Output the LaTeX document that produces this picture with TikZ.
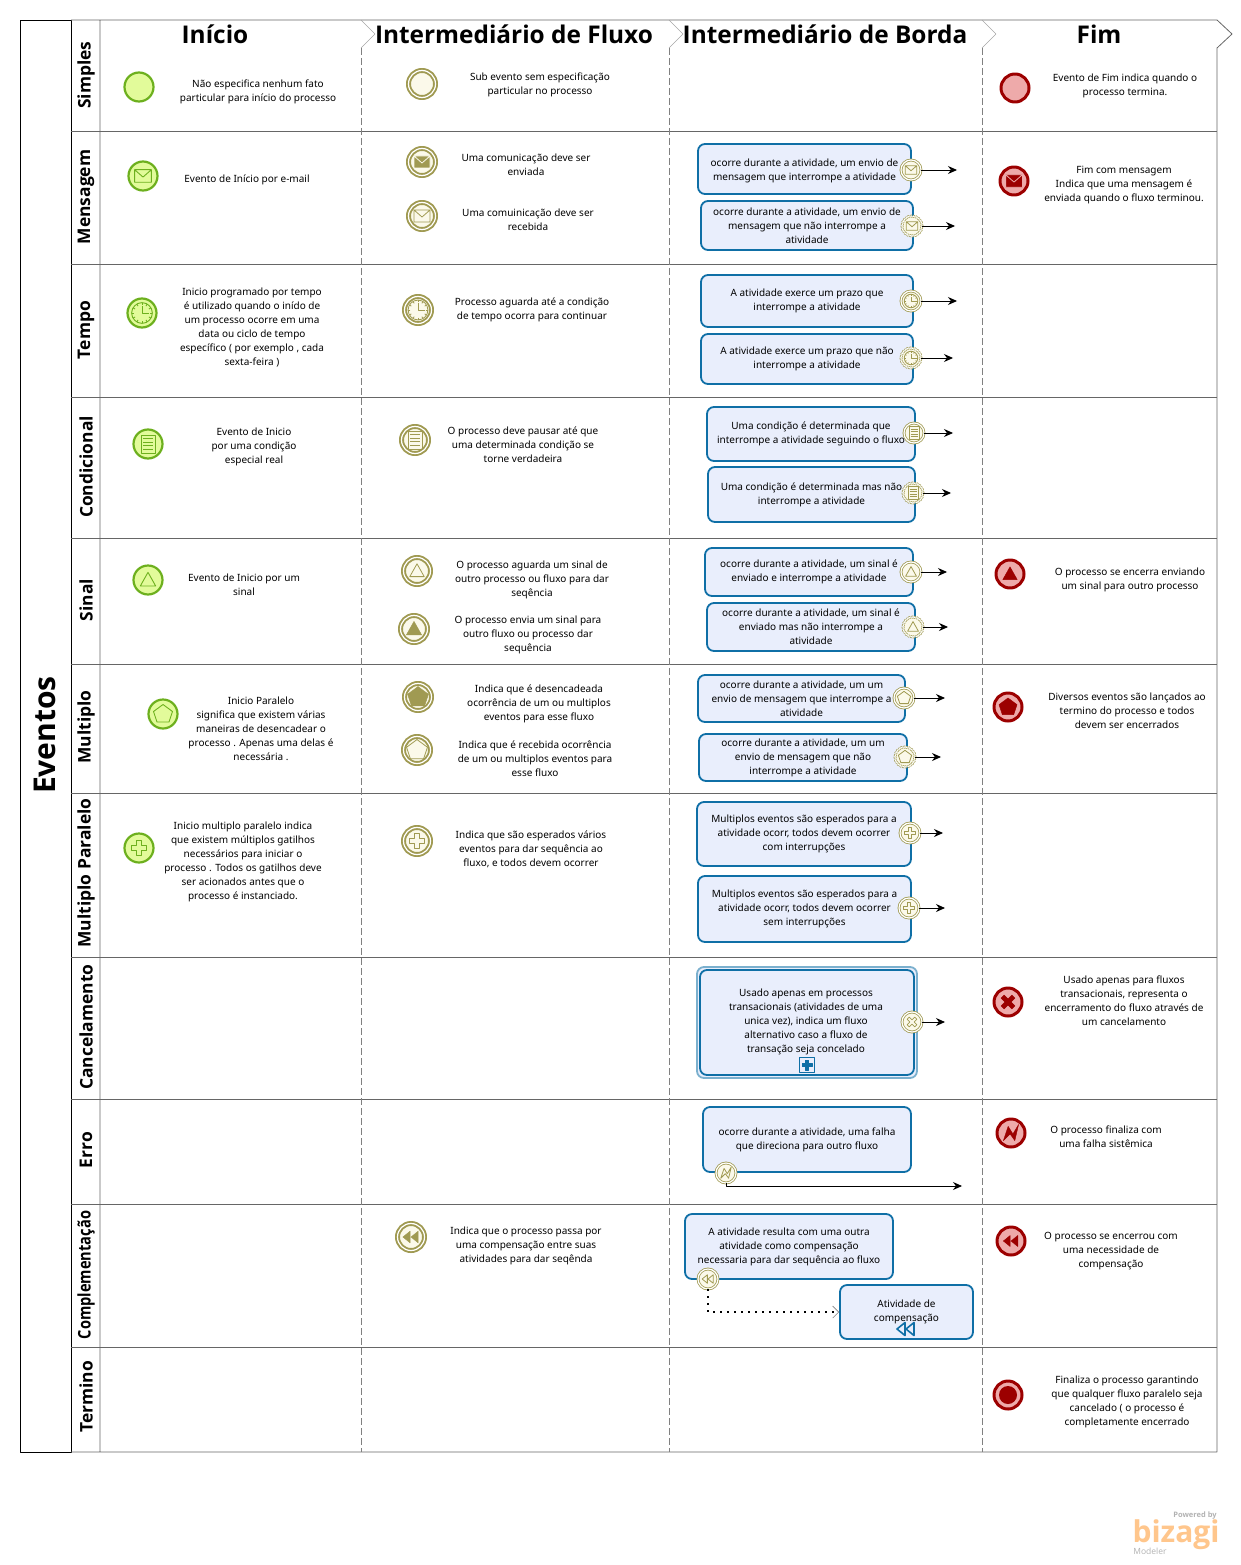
\documentclass[tikz,border=0pt]{standalone}
\usepackage{fontspec}
\setmainfont{Noto Sans}
\newfontfamily\headfont{Open Sans}
\usetikzlibrary{arrows.meta}
\definecolor{startline}{HTML}{6DB01E}
\definecolor{startfill}{HTML}{E2FB9A}
\definecolor{midline}{HTML}{A09A52}
\definecolor{midfill}{HTML}{FBF9EA}
\definecolor{endline}{HTML}{9C0000}
\definecolor{endfill}{HTML}{EEAAAA}
\definecolor{taskline}{HTML}{0F6FA6}
\definecolor{taskfill}{HTML}{E9EEFC}
\definecolor{laneline}{HTML}{666666}
\tikzset{
 lbl/.style={inner sep=0pt,align=center,yshift=-2pt,font=\fontsize{10}{14}\selectfont},
 title/.style={inner sep=0pt,font=\headfont\fontsize{24.4}{28}\selectfont\bfseries},
 lanelbl/.style={inner sep=0pt,rotate=90,font=\headfont\fontsize{17.4}{20}\selectfont\bfseries},
 evstart/.style={circle,draw=startline,fill=startfill,line width=2.2pt,minimum size=29pt,inner sep=0pt},
 evmid/.style={circle,draw=midline,fill=midfill,line width=1.9pt,double=white,double distance=1.2pt,minimum size=27pt,inner sep=0pt},
 evbound/.style={circle,draw=midline,fill=midfill,line width=.8pt,double=white,double distance=1.2pt,minimum size=20pt,inner sep=0pt},
 evnon/.style={evbound,dash pattern=on 1.6pt off 1pt},
 evend/.style={circle,draw=endline,fill=endfill,line width=3pt,minimum size=28pt,inner sep=0pt},
 task/.style={rounded corners=7pt,draw=taskline,fill=taskfill,line width=1.8pt,align=center,inner sep=0pt,font=\fontsize{10}{14}\selectfont},
 flow/.style={-{Stealth[length=9pt,width=8pt]},line width=.9pt},
 gs/.style={draw=startline,line width=.9pt},
 gm/.style={draw=midline,line width=.8pt},
 gmf/.style={draw=midfill,fill=midline,line width=.8pt},
 ge/.style={draw=endfill,fill=endline,line width=.8pt}
}
\newcommand{\fl}{\rule{0pt}{12pt}}
% glyphs inside the events
\newcommand{\glMail}[3]{\begin{scope}[shift={(#1)},scale=#2]
 \draw[#3] (-8,-6) rectangle (8,6) (-8,-6)--(0,1)--(8,-6);\end{scope}}
\newcommand{\glClock}[3]{\begin{scope}[shift={(#1)},scale=#2]
 \draw[#3] (0,0) circle (9);
 \foreach \a in {0,30,...,330} \draw[#3] (\a:7)--(\a:9);
 \draw[#3] (0,-6)--(0,0)--(6,0);\end{scope}}
\newcommand{\glDoc}[3]{\begin{scope}[shift={(#1)},scale=#2]
 \draw[#3] (-7,-9) rectangle (7,9);
 \foreach \y in {-5.5,-2,1.5,5} \draw[#3] (-5,\y)--(5,\y);\end{scope}}
\newcommand{\glTri}[3]{\begin{scope}[shift={(#1)},scale=#2]
 \draw[#3] (0,-9)--(9,7)--(-9,7)--cycle;\end{scope}}
\newcommand{\glPent}[3]{\begin{scope}[shift={(#1)},scale=#2]
 \draw[#3] (0,-9.5)--(9.5,-2.5)--(6,8)--(-6,8)--(-9.5,-2.5)--cycle;\end{scope}}
\newcommand{\glPlus}[3]{\begin{scope}[shift={(#1)},scale=#2]
 \draw[#3] (-3,-9)--(3,-9)--(3,-3)--(9,-3)--(9,3)--(3,3)--(3,9)--(-3,9)--(-3,3)--(-9,3)--(-9,-3)--(-3,-3)--cycle;\end{scope}}
\newcommand{\glCross}[3]{\begin{scope}[shift={(#1)},scale=#2,rotate=45]
 \draw[#3] (-2.5,-9)--(2.5,-9)--(2.5,-2.5)--(9,-2.5)--(9,2.5)--(2.5,2.5)--(2.5,9)--(-2.5,9)--(-2.5,2.5)--(-9,2.5)--(-9,-2.5)--(-2.5,-2.5)--cycle;\end{scope}}
\newcommand{\glBolt}[3]{\begin{scope}[shift={(#1)},scale=#2]
 \draw[#3] (-8,8)--(-3,-7)--(2,1)--(8,-9)--(4,8)--(-1,1)--cycle;\end{scope}}
\newcommand{\glBack}[3]{\begin{scope}[shift={(#1)},scale=#2]
 \draw[#3] (-1,-6.5)--(-1,6.5)--(-9,0)--cycle (8,-6.5)--(8,6.5)--(0,0)--cycle;\end{scope}}
\begin{document}
\begin{tikzpicture}[x=1pt,y=-1pt,line join=round]
\useasboundingbox (0,0) rectangle (1240,1565);
% pool and lanes
\draw[line width=.8pt] (20,20) rectangle (71,1452);
\node[inner sep=0pt,rotate=90,font=\headfont\fontsize{30}{32}\selectfont\bfseries] (pool) at (45,735) {Eventos};
\draw[laneline,line width=.8pt] (71,20)--(1217,20)--(1232,34)--(1217,48)--(1217,1452)--(71,1452)
 (100,20)--(100,1452);
\foreach \y in {132,264,397,538,664,793,957,1099,1204,1347} \draw[laneline,line width=1pt] (71,\y)--(1217,\y);
\foreach \x in {361,669,982} {
 \draw[gray,dash pattern=on 7pt off 3pt] (\x,48)--(\x,1452);
 \draw[gray!70] (\x,20)--(\x+14,34)--(\x,48);
}
\foreach \y/\t in {75/Simples,197/Mensagem,330/Tempo,467/Condicional,600/Sinal,727/Multiplo,873/Multiplo Paralelo,1027/Cancelamento,1150/Erro,1397/Termino}
 \node[lanelbl] at (86,\y) {\t};
\node[lanelbl,xscale=.84] (lCom) at (86,1275) {Complementação};
\node[title] (hIni) at (215,34) {Início};
\node[title] (hFlu) at (514,34) {Intermediário de Fluxo};
\node[title] (hBor) at (825,34) {Intermediário de Borda};
\node[title] (hFim) at (1099,34) {Fim};
% Simples
\node[evstart] (sSim) at (139,87) {};
\node[lbl] at (258,90) {Não especifica nenhum fato\\particular para início do processo};
\node[evmid] (mSim) at (422,84) {};
\node[lbl] at (540,83) {Sub evento sem especificação\\particular no processo};
\node[evend] (eSim) at (1015,88) {};
\node[lbl] at (1125,84) {Evento de Fim indica quando o\\processo termina.};
% Mensagem
\node[evstart] (sMen) at (143,176) {};
\glMail{sMen}{1.05}{gs}
\node[lbl] at (247,178) {Evento de Início por e-mail};
\node[evmid] (mMen1) at (422,162) {};
\glMail{mMen1}{1}{gmf}
\node[lbl] at (526,163) {Uma comunicação deve ser\\enviada};
\node[evmid] (mMen2) at (422,216) {};
\glMail{mMen2}{1}{gm}
\node[lbl] at (528,218) {Uma comuinicação deve ser\\recebida};
\node[task,minimum width=213pt,minimum height=50pt] (tMen1) at (804.5,169) {\fl ocorre durante a atividade, um envio de\\mensagem que interrompe a atividade};
\node[evbound] (bMen1) at (911,170) {};
\glMail{bMen1}{.72}{gm}
\coordinate (aMen1) at (957,170);
\draw[flow] (bMen1)--(aMen1);
\node[task,minimum width=212pt,minimum height=49pt] (tMen2) at (807,225.5) {ocorre durante a atividade, um envio de\\mensagem que não interrompe a\\atividade};
\node[evnon] (bMen2) at (912,226) {};
\glMail{bMen2}{.72}{gm}
\coordinate (aMen2) at (955,226);
\draw[flow] (bMen2)--(aMen2);
\node[evend] (eMen) at (1014,181) {};
\glMail{eMen}{1.05}{ge}
\node[lbl] at (1124,183) {Fim com mensagem\\Indica que uma mensagem é\\enviada quando o fluxo terminou.};
% Tempo
\node[evstart] (sTem) at (142,313) {};
\glClock{sTem}{1.15}{gs}
\node[lbl] at (252,325) {Inicio programado por tempo\\é utilizado quando o inído de\\um processo ocorre em uma\\data ou ciclo de tempo\\específico ( por exemplo , cada\\sexta-feira )};
\node[evmid] (mTem) at (418,310) {};
\glClock{mTem}{1.1}{gm}
\node[lbl] at (532,308) {Processo aguarda até a condição\\de tempo ocorra para continuar};
\node[task,minimum width=212pt,minimum height=52pt] (tTem1) at (807,301) {A atividade exerce um prazo que\\interrompe a atividade};
\node[evbound] (bTem1) at (911,301) {};
\glClock{bTem1}{.75}{gm}
\coordinate (aTem1) at (957,301);
\draw[flow] (bTem1)--(aTem1);
\node[task,minimum width=212pt,minimum height=50pt] (tTem2) at (807,359) {A atividade exerce um prazo que não\\interrompe a atividade};
\node[evnon] (bTem2) at (911,358) {};
\glClock{bTem2}{.75}{gm}
\coordinate (aTem2) at (953,358);
\draw[flow] (bTem2)--(aTem2);
% Condicional
\node[evstart] (sCon) at (148,444) {};
\glDoc{sCon}{1}{gs}
\node[lbl] at (254,445) {Evento de Inicio\\por uma condição\\especial real};
\node[evmid] (mCon) at (415,440) {};
\glDoc{mCon}{1}{gm}
\node[lbl] at (523,443) {O processo deve pausar até que\\uma determinada condição se\\torne verdadeira};
\node[task,minimum width=208pt,minimum height=54pt] (tCon1) at (811,434) {Uma condição é determinada que\\interrompe a atividade seguindo o fluxo};
\node[evbound] (bCon1) at (914,433) {};
\glDoc{bCon1}{.7}{gm}
\coordinate (aCon1) at (953,433);
\draw[flow] (bCon1)--(aCon1);
\node[task,minimum width=207pt,minimum height=55pt] (tCon2) at (811.5,494.5) {Uma condição é determinada mas não\\interrompe a atividade};
\node[evnon] (bCon2) at (913,493) {};
\glDoc{bCon2}{.7}{gm}
\coordinate (aCon2) at (951,493);
\draw[flow] (bCon2)--(aCon2);
% Sinal
\node[evstart] (sSin) at (148,580) {};
\glTri{sSin}{.85}{gs}
\node[lbl] at (244,583) {Evento de Inicio por um\\sinal};
\node[evmid] (mSin1) at (417,571) {};
\glTri{mSin1}{.8}{gm}
\node[lbl] at (532,578) {O processo aguarda um sinal de\\outro processo ou fluxo para dar\\seqência};
\node[evmid] (mSin2) at (414,629) {};
\glTri{mSin2}{.85}{draw=midline,fill=midline}
\node[lbl] at (528,633) {O processo envia um sinal para\\outro fluxo ou processo dar\\sequência};
\node[task,minimum width=208pt,minimum height=48pt] (tSin1) at (809,572) {ocorre durante a atividade, um sinal é\\enviado e interrompe a atividade};
\node[evbound] (bSin1) at (911,572) {};
\glTri{bSin1}{.6}{gm}
\coordinate (aSin1) at (947,572);
\draw[flow] (bSin1)--(aSin1);
\node[task,minimum width=208pt,minimum height=48pt] (tSin2) at (811,627) {ocorre durante a atividade, um sinal é\\enviado mas não interrompe a\\atividade};
\node[evnon] (bSin2) at (913,627) {};
\glTri{bSin2}{.6}{gm}
\coordinate (aSin2) at (948,627);
\draw[flow] (bSin2)--(aSin2);
\node[evend] (eSin) at (1010,574) {};
\glTri{eSin}{.8}{draw=endline,fill=endline}
\node[lbl] at (1130,578) {O processo se encerra enviando\\um sinal para outro processo};
% Multiplo
\node[evstart] (sMul) at (163,714) {};
\glPent{sMul}{1}{gs}
\node[lbl] at (261,727) {Inicio Paralelo\\significa que existem várias\\maneiras de desencadear o\\processo . Apenas uma delas é\\necessária .};
\node[evmid] (mMul1) at (418,697) {};
\glPent{mMul1}{1.1}{draw=midline,fill=midline}
\node[lbl] at (539,702) {Indica que é desencadeada\\ocorrência de um ou multiplos\\eventos para esse fluxo};
\node[evmid] (mMul2) at (417,750) {};
\glPent{mMul2}{1.1}{gm}
\node[lbl] at (535,757) {Indica que é recebida ocorrência\\de um ou multiplos eventos para\\esse fluxo};
\node[task,minimum width=207pt,minimum height=47pt] (tMul1) at (801.5,698.5) {ocorre durante a atividade, um um\\envio de mensagem que interrompe a\\atividade};
\node[evbound] (bMul1) at (904,698) {};
\glPent{bMul1}{.7}{gm}
\coordinate (aMul1) at (945,698);
\draw[flow] (bMul1)--(aMul1);
\node[task,minimum width=208pt,minimum height=47pt] (tMul2) at (803,757.5) {ocorre durante a atividade, um um\\envio de mensagem que não\\interrompe a atividade};
\node[evnon] (bMul2) at (905,757) {};
\glPent{bMul2}{.7}{gm}
\coordinate (aMul2) at (941,757);
\draw[flow] (bMul2)--(aMul2);
\node[evend] (eMul) at (1008,707) {};
\glPent{eMul}{.95}{draw=endline,fill=endline}
\node[lbl] at (1127,709) {Diversos eventos são lançados ao\\termino do processo e todos\\devem ser encerrados};
% Multiplo Paralelo
\node[evstart] (sPar) at (139,848) {};
\glPlus{sPar}{.85}{gs}
\node[lbl] at (243,860) {Inicio multiplo paralelo indica\\que existem múltiplos gatilhos\\necessários para iniciar o\\processo . Todos os gatilhos deve\\ser acionados antes que o\\processo é instanciado.};
\node[evmid] (mPar) at (417,841) {};
\glPlus{mPar}{.85}{gm}
\node[lbl] at (531,847) {Indica que são esperados vários\\eventos para dar sequência ao\\fluxo, e todos devem ocorrer};
\node[task,minimum width=214pt,minimum height=64pt] (tPar1) at (804,834) {Multiplos eventos são esperados para a\\atividade ocorr, todos devem ocorrer\\com interrupções};
\node[evbound] (bPar1) at (910,833) {};
\glPlus{bPar1}{.6}{gm}
\coordinate (aPar1) at (943,833);
\draw[flow] (bPar1)--(aPar1);
\node[task,minimum width=213pt,minimum height=66pt] (tPar2) at (804.5,909) {Multiplos eventos são esperados para a\\atividade ocorr, todos devem ocorrer\\sem interrupções};
\node[evbound] (bPar2) at (909,908) {};
\glPlus{bPar2}{.6}{gm}
\coordinate (aPar2) at (945,908);
\draw[flow] (bPar2)--(aPar2);
% Cancelamento
\node[rounded corners=7pt,draw=taskline!55,fill=taskfill,line width=1.8pt,minimum width=220pt,minimum height=111pt] (tCan0) at (807,1022.5) {};
\node[task,minimum width=214pt,minimum height=105pt] (tCan) at (807,1022.5) {};
\node[lbl] at (806,1020) {Usado apenas em processos\\transacionais (atividades de uma\\unica vez), indica um fluxo\\alternativo caso a fluxo de\\transação seja concelado};
\node[draw=taskline,fill=taskfill,line width=1.4pt,minimum size=15pt,inner sep=0pt] (mkCan) at (807,1065) {};
\glPlus{mkCan}{.55}{draw=taskline,fill=taskline}
\node[evbound] (bCan) at (912,1022) {};
\glCross{bCan}{.6}{gm}
\coordinate (aCan) at (945,1022);
\draw[flow] (bCan)--(aCan);
\node[evend] (eCan) at (1008,1002) {};
\glCross{eCan}{.85}{draw=endline,fill=endline}
\node[lbl] at (1124,999) {Usado apenas para fluxos\\transacionais, representa o\\encerramento do fluxo através de\\um cancelamento};
% Erro
\node[task,minimum width=208pt,minimum height=65pt] (tErr) at (807,1139.5) {ocorre durante a atividade, uma falha\\que direciona para outro fluxo};
\node[evbound] (bErr) at (726,1173) {};
\glBolt{bErr}{.65}{gm}
\coordinate (aErr) at (962,1186);
\draw[flow] (bErr)|-(aErr);
\node[evend] (eErr) at (1011,1133) {};
\glBolt{eErr}{.95}{draw=endline,fill=endline}
\node[lbl] at (1106,1135) {O processo finaliza com\\uma falha sistêmica};
% Complementacao
\node[evmid] (mCom) at (411,1237) {};
\glBack{mCom}{.9}{draw=midline,fill=midline}
\node[lbl] at (526,1244) {Indica que o processo passa por\\uma compensação entre suas\\atividades para dar seqênda};
\node[task,minimum width=208pt,minimum height=65pt] (tCom) at (789,1246.5) {A atividade resulta com uma outra\\atividade como compensação\\necessaria para dar sequência ao fluxo};
\node[evbound] (bCom) at (708,1279) {};
\glBack{bCom}{.65}{gm}
\node[task,minimum width=133pt,minimum height=54pt] (tCom2) at (906.5,1312) {Atividade de\\compensação};
\glBack{906,1329}{1}{draw=taskline,fill=taskfill,line width=1.6pt}
\draw[line width=1.3pt,dash pattern=on 1.4pt off 5.6pt,-{Straight Barb[length=6pt,width=12pt,line width=.6pt,gray]}] (bCom)|-(tCom2);
\node[evend] (eCom) at (1011,1241) {};
\glBack{eCom}{.85}{draw=endline,fill=endline}
\node[lbl] at (1111,1249) {O processo se encerrou com\\uma necessidade de\\compensação};
% Termino
\node[evend] (eTer) at (1008,1395) {};
\node[circle,fill=endline,minimum size=18pt,inner sep=0pt] (eTer2) at (eTer) {};
\node[lbl] at (1127,1400) {Finaliza o processo garantindo\\que qualquer fluxo paralelo seja\\cancelado ( o processo é\\completamente encerrado};
% logo
\node[inner sep=0pt,text=gray!60,font=\headfont\fontsize{7.5}{8}\selectfont\bfseries] (powBy) at (1195,1516) {Powered by};
\node[inner sep=0pt,text=orange!45,font=\headfont\fontsize{30}{32}\selectfont\bfseries] (bzg) at (1176,1535) {bizagi};
\node[inner sep=0pt,text=gray!60,font=\headfont\fontsize{8.5}{9}\selectfont] (modl) at (1150,1551) {Modeler};
\end{tikzpicture}
\end{document}
